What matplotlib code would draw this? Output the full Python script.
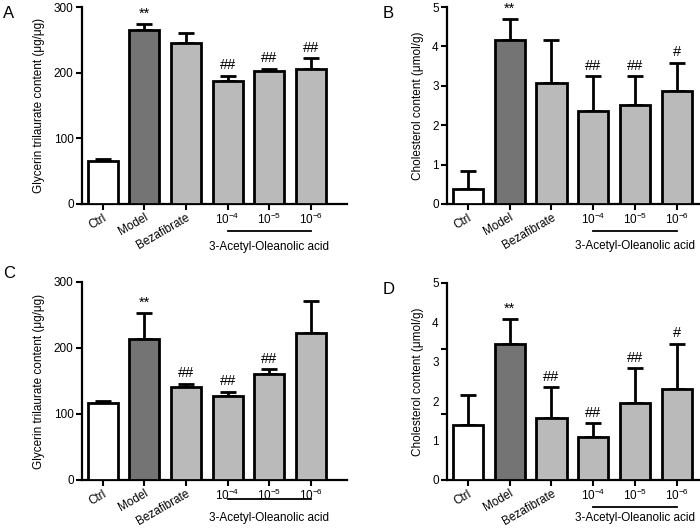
import matplotlib
matplotlib.use("Agg")
import matplotlib.pyplot as plt
import numpy as np

plt.rcParams['font.family'] = ['Liberation Sans', 'DejaVu Sans']
plt.rcParams['mathtext.fontset'] = 'custom'
plt.rcParams['mathtext.rm'] = 'Liberation Sans'
plt.rcParams['mathtext.it'] = 'Liberation Sans:italic'
plt.rcParams['mathtext.bf'] = 'Liberation Sans:bold'
plt.rcParams['mathtext.default'] = 'regular'

categories = ["Ctrl", "Model", "Bezafibrate", r"$10^{-4}$", r"$10^{-5}$", r"$10^{-6}$"]
group_label = "3-Acetyl-Oleanolic acid"

a_mean = [66, 265, 245, 187, 202, 206]
a_err = [3, 9, 15, 8, 4, 16]
a_sig = ["", "**", "", "##", "##", "##"]

b_mean = [0.37, 4.17, 3.07, 2.36, 2.51, 2.87]
b_err = [0.47, 0.53, 1.10, 0.88, 0.73, 0.71]
b_sig = ["", "**", "", "##", "##", "#"]

c_mean = [117, 214, 141, 128, 161, 222]
c_err = [3, 39, 5, 6, 7, 49]
c_sig = ["", "**", "##", "##", "##", ""]

d_mean = [1.39, 3.46, 1.57, 1.09, 1.96, 2.32]
d_err = [0.76, 0.63, 0.79, 0.35, 0.87, 1.14]
d_sig = ["", "**", "##", "##", "##", "#"]

ylab_tg = "Glycerin trilaurate content (\u03bcg/\u03bcg)"
ylab_ch = "Cholesterol content (\u03bcmol/g)"

colors = ["#ffffff", "#747474", "#bababa", "#bababa", "#bababa", "#bababa"]

W, H = 700, 528
fig = plt.figure(figsize=(7.0, 5.28), dpi=100)

def make_axes(l, t, r, b):
    return fig.add_axes([l / W, 1 - b / H, (r - l) / W, (b - t) / H])

def panel(ax, mean, err, sig, ymax, yticks, ylabel, xlim, letter, letter_xy,
          line_off, text_off, axh):
    x = np.arange(len(mean))
    ax.errorbar(x, mean, yerr=[np.zeros(len(err)), err], fmt='none',
                ecolor='black', elinewidth=2.0, capsize=5.8, capthick=2.0, zorder=2)
    ax.bar(x, mean, width=0.72, color=colors, edgecolor='black', linewidth=2.0, zorder=3)
    for xi, m, e, s in zip(x, mean, err, sig):
        if s:
            ax.annotate(s, (xi, m + e), xytext=(0, 2.5), textcoords='offset points',
                        ha='center', va='bottom', fontsize=10.5)
    ax.set_ylim(0, ymax)
    ax.set_xlim(*xlim)
    ax.set_yticks(yticks)
    ax.set_xticks(x)
    ax.set_xticklabels(categories)
    for i, lab in enumerate(ax.get_xticklabels()):
        if i < 3:
            lab.set_rotation(30)
            lab.set_ha('right')
            lab.set_va('top')
            lab.set_rotation_mode('anchor')
        else:
            lab.set_rotation(0)
            lab.set_ha('center')
    ax.tick_params(axis='both', direction='out', width=1.5, length=4, labelsize=8.5, pad=2)
    ax.tick_params(axis='x', pad=1.5)
    for sp in ['top', 'right']:
        ax.spines[sp].set_visible(False)
    for sp in ['left', 'bottom']:
        ax.spines[sp].set_linewidth(1.6)
    ax.set_ylabel(ylabel, fontsize=8.5, labelpad=6)
    tr = ax.get_xaxis_transform()
    ax.plot([3, 5], [-line_off / axh] * 2, color='black', lw=1.3, transform=tr, clip_on=False)
    ax.text(4, -text_off / axh, group_label, ha='center', va='center', fontsize=8.5,
            transform=tr)
    fig.text(letter_xy[0] / W, 1 - letter_xy[1] / H, letter, fontsize=12, ha='left', va='top')

axA = make_axes(82, 7, 347, 204)
panel(axA, a_mean, a_err, a_sig, 300, [0, 100, 200, 300], ylab_tg, (-0.5, 5.87), "A",
      (3, 6), 27, 43, 197)

axB = make_axes(447, 7, 699, 204)
panel(axB, b_mean, b_err, b_sig, 5, [0, 1, 2, 3, 4, 5], ylab_ch, (-0.5, 5.53), "B",
      (383, 6), 27, 42, 197)

axC = make_axes(82, 282, 347, 480)
panel(axC, c_mean, c_err, c_sig, 300, [0, 100, 200, 300], ylab_tg, (-0.5, 5.87), "C",
      (3, 266), 19, 38, 198)

axD = make_axes(447, 283, 699, 480)
panel(axD, d_mean, d_err, d_sig, 5, [0, 5 / 3, 10 / 3, 5], ylab_ch, (-0.5, 5.53), "D",
      (383, 282), 27, 38, 197)
# panel D: tick marks and labels are offset in the original figure
axD.yaxis.remove_overlapping_locs = False
axD.set_yticklabels([])
axD.set_yticks([0, 1, 2, 3, 4, 5], minor=True)
axD.set_yticklabels(["0", "1", "2", "3", "4", "5"], minor=True)
axD.tick_params(axis='y', which='minor', length=0, pad=6, labelsize=8.5)

fig.savefig("out.png", dpi=100)
